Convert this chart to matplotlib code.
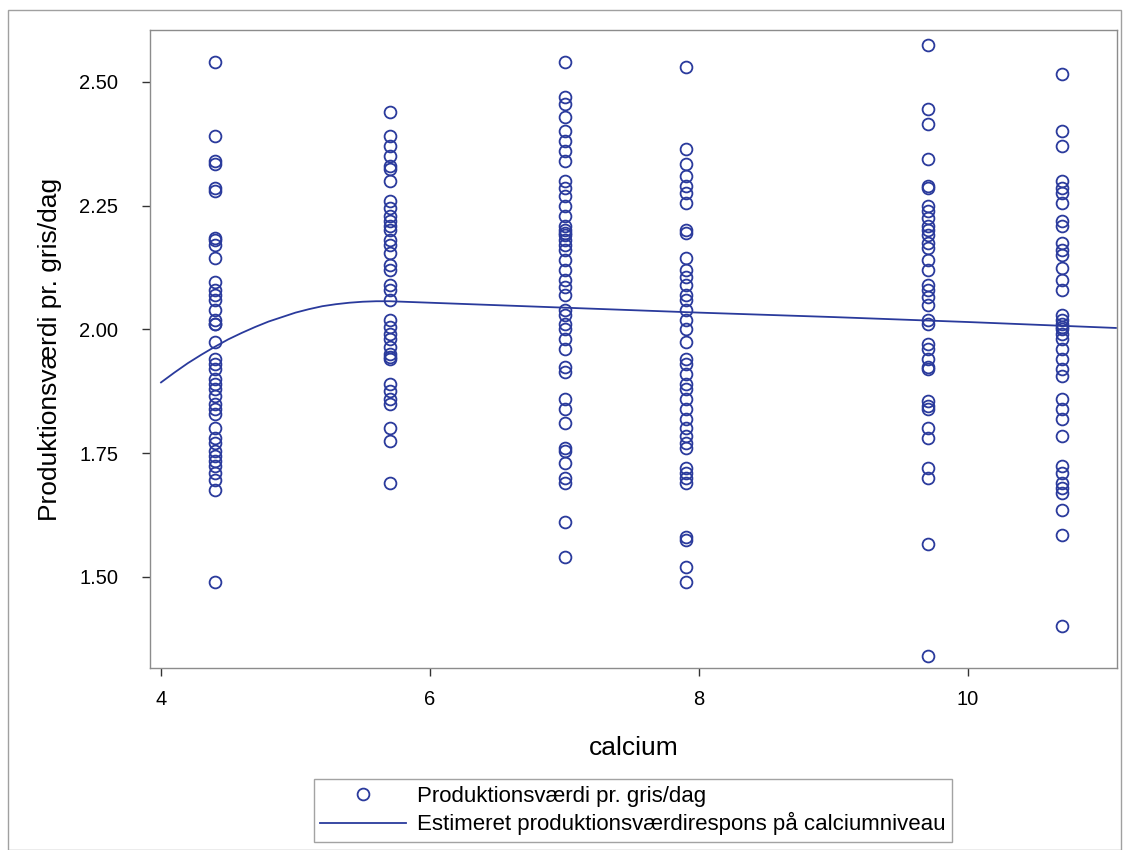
import matplotlib
matplotlib.use("Agg")
import matplotlib.pyplot as plt
from matplotlib.lines import Line2D
from matplotlib.patches import Rectangle

plt.rcParams['font.family'] = ['Liberation Sans', 'DejaVu Sans']

# ---- data ----
calcium_levels = [4.4, 5.7, 7.0, 7.9, 9.7, 10.7]

vals_44 = [2.54, 2.39, 2.34, 2.335, 2.285, 2.28, 2.185, 2.18, 2.17, 2.145, 2.095, 2.08,
           2.07, 2.06, 2.04, 2.02, 2.01, 2.01, 1.975, 1.94, 1.93, 1.92, 1.90, 1.89, 1.88,
           1.865, 1.85, 1.84, 1.83, 1.80, 1.78, 1.77, 1.755, 1.745, 1.735, 1.725, 1.71,
           1.695, 1.675, 1.49]
vals_57 = [2.44, 2.39, 2.37, 2.35, 2.33, 2.325, 2.30, 2.26, 2.245, 2.23, 2.22, 2.21, 2.20,
           2.18, 2.17, 2.155, 2.13, 2.12, 2.09, 2.08, 2.06, 2.02, 2.005, 1.99, 1.98, 1.965,
           1.95, 1.945, 1.94, 1.89, 1.875, 1.86, 1.85, 1.80, 1.775, 1.69]
vals_70 = [2.54, 2.47, 2.455, 2.43, 2.40, 2.38, 2.36, 2.34, 2.30, 2.285, 2.27, 2.25, 2.23,
           2.21, 2.20, 2.195, 2.19, 2.18, 2.17, 2.16, 2.14, 2.12, 2.10, 2.085, 2.07, 2.04,
           2.03, 2.01, 2.0, 1.98, 1.96, 1.925, 1.915, 1.86, 1.84, 1.81, 1.76, 1.755, 1.73,
           1.70, 1.69, 1.61, 1.54]
vals_79 = [2.53, 2.365, 2.335, 2.31, 2.29, 2.275, 2.255, 2.20, 2.195, 2.145, 2.12, 2.105,
           2.09, 2.07, 2.06, 2.04, 2.02, 2.0, 1.975, 1.94, 1.93, 1.91, 1.89, 1.88, 1.86,
           1.84, 1.82, 1.80, 1.785, 1.77, 1.76, 1.72, 1.71, 1.70, 1.69, 1.58, 1.575, 1.52,
           1.49]
vals_97 = [2.575, 2.445, 2.415, 2.345, 2.29, 2.285, 2.25, 2.24, 2.225, 2.21, 2.20, 2.19,
           2.175, 2.165, 2.14, 2.12, 2.09, 2.08, 2.065, 2.05, 2.02, 2.01, 1.97, 1.96, 1.94,
           1.925, 1.92, 1.855, 1.845, 1.84, 1.80, 1.78, 1.72, 1.70, 1.567, 1.34]
vals_107 = [2.517, 2.40, 2.37, 2.30, 2.285, 2.275, 2.255, 2.22, 2.21, 2.175, 2.16, 2.15,
            2.125, 2.10, 2.08, 2.03, 2.02, 2.01, 2.005, 2.0, 1.99, 1.98, 1.96, 1.94, 1.92,
            1.905, 1.86, 1.84, 1.82, 1.785, 1.725, 1.71, 1.69, 1.68, 1.67, 1.635, 1.585,
            1.40]
groups = [vals_44, vals_57, vals_70, vals_79, vals_97, vals_107]

curve_x = [4.0, 4.1, 4.2, 4.3, 4.4, 4.5, 4.6, 4.7, 4.8, 4.9, 5.0, 5.1, 5.2, 5.3, 5.4,
           5.5, 5.6, 5.7, 6.0, 7.0, 8.0, 9.0, 10.0, 11.1]
curve_y = [1.893, 1.913, 1.932, 1.949, 1.965, 1.980, 1.993, 2.005, 2.016, 2.025, 2.034,
           2.041, 2.047, 2.051, 2.054, 2.056, 2.057, 2.057, 2.054, 2.044, 2.034, 2.025,
           2.015, 2.003]

x_ticks = [4, 6, 8, 10]
y_ticks = [1.50, 1.75, 2.00, 2.25, 2.50]
y_tick_labels = ["1.50", "1.75", "2.00", "2.25", "2.50"]

scatter_label = "Produktionsværdi pr. gris/dag"
line_label = "Estimeret produktionsværdirespons på calciumniveau"

blue = '#2a3a9c'
frame_grey = '#8c8c8c'

fig = plt.figure(figsize=(11.23, 8.5), dpi=100)
ax = fig.add_axes([150/1123, 1-668/850, (1117-150)/1123, (668-30)/850])

for xv, ys in zip(calcium_levels, groups):
    ax.plot([xv]*len(ys), ys, linestyle='none', marker='o', markersize=8.5,
            markerfacecolor='none', markeredgecolor=blue, markeredgewidth=1.3)

ax.plot(curve_x, curve_y, color=blue, linewidth=1.3)

ax.set_xlim(3.918, 11.108)
ax.set_ylim(1.316, 2.605)
ax.set_xticks(x_ticks)
ax.set_yticks(y_ticks)
ax.set_yticklabels(y_tick_labels)
ax.tick_params(axis='both', labelsize=14.5, colors='#333333', length=6, width=1,
               direction='out')
ax.tick_params(axis='both', labelcolor='black')
ax.tick_params(axis='x', pad=10)
ax.tick_params(axis='y', pad=17)
for s in ax.spines.values():
    s.set_color(frame_grey)
    s.set_linewidth(1)

ax.set_xlabel("calcium", fontsize=19, labelpad=19)
ax.set_ylabel(scatter_label, fontsize=19, labelpad=12)

handles = [Line2D([], [], linestyle='none', marker='o', markersize=8.5,
                  markerfacecolor='none', markeredgecolor=blue, markeredgewidth=1.3),
           Line2D([], [], color=blue, linewidth=1.3)]
leg = fig.legend(handles, [scatter_label, line_label], loc='upper center',
                 bbox_to_anchor=(633/1123, 1-779/850), fontsize=16, frameon=True,
                 fancybox=False, handlelength=3.85, handletextpad=0.5,
                 borderpad=0.3, labelspacing=0.25, borderaxespad=0)
leg.get_frame().set_edgecolor(frame_grey)
leg.get_frame().set_linewidth(1)

# outer graph border
fig.patches.append(Rectangle((8/1123, 0), (1121-8)/1123, 1-10/850,
                             transform=fig.transFigure, fill=False,
                             edgecolor='#a0a0a0', linewidth=1))

fig.savefig("out.png", dpi=100)
